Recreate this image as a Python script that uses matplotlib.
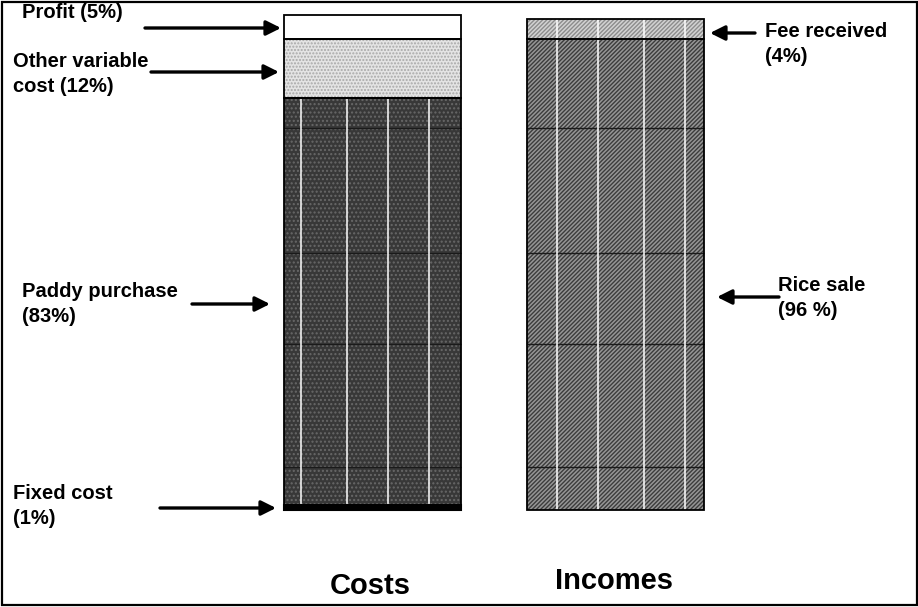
import matplotlib.pyplot as plt
from matplotlib.patches import Rectangle

plt.rcParams['font.family'] = ['Liberation Sans', 'DejaVu Sans']
plt.rcParams['font.weight'] = 'bold'
plt.rcParams['hatch.linewidth'] = 1.0

# shares of each side (percent), bottom to top
categories = ["Costs", "Incomes"]
cost_labels = ["Fixed cost", "Paddy purchase", "Other variable cost", "Profit"]
cost_values = [1, 83, 12, 5]
income_labels = ["Rice sale", "Fee received"]
income_values = [96, 4]

# fill styles: (face, hatch, hatch colour)
cost_styles = [("#000000", None, None),
               ("#383838", "....", "#686868"),
               ("#e4e4e4", ".....", "#a8a8a8"),
               ("#ffffff", None, None)]
income_styles = [("#969696", "////////", "#3c3c3c"),
                 ("#d2d2d2", "////////", "#8c8c8c")]

W, H = 918, 607
fig = plt.figure(figsize=(W / 100, H / 100), dpi=100)

# bar axes: y is percent, x is category index
ax = fig.add_axes([0, (H - 510) / H, 1, 493 / H])
px_per_unit = 242.5
ax.set_xlim(-372.5 / px_per_unit, (W - 372.5) / px_per_unit)
ax.set_ylim(0, 100.5)
ax.axis("off")
width = 177 / px_per_unit


def stack(x, values, styles):
    bottom = 0
    for v, (face, hatch, hcol) in zip(values, styles):
        ax.bar(x, v, width, bottom=bottom, color=face, edgecolor="none",
               linewidth=0, clip_on=False)
        if hatch:
            ax.bar(x, v, width, bottom=bottom, fill=False, hatch=hatch,
                   edgecolor=hcol, linewidth=0, clip_on=False)
        bottom += v
    return bottom


cost_top = stack(0, cost_values, cost_styles)
income_top = stack(1, income_values, income_styles)

# faint guide lines running through the big segments
guide_levels = [8.8, 33.8, 52.4, 77.9]
for x in (0, 1):
    ax.hlines(guide_levels, x - width / 2, x + width / 2, color="#1a1a1a", lw=1.0, zorder=3)

# white column rules inside the bars
cost_rules = [0.098, 0.357, 0.589, 0.820]
income_rules = [0.174, 0.406, 0.666, 0.898]
paddy_lo = cost_values[0]
paddy_hi = cost_values[0] + cost_values[1]
for f in cost_rules:
    ax.vlines(-width / 2 + f * width, paddy_lo, paddy_hi, color="white", lw=1.1, zorder=3)
for f in income_rules:
    ax.vlines(1 - width / 2 + f * width, 0, income_top, color="white", lw=1.1, zorder=3)

# segment outlines
for x, values in ((0, cost_values), (1, income_values)):
    bottom = 0
    for v in values:
        ax.bar(x, v, width, bottom=bottom, fill=False, edgecolor="black",
               linewidth=1.3, zorder=4, clip_on=False)
        bottom += v
# heavy base for fixed cost
ax.bar(0, cost_values[0], width, color="black", edgecolor="black", linewidth=1.5,
       zorder=5, clip_on=False)

# overlay in pixel units for labels and arrows
ov = fig.add_axes([0, 0, 1, 1])
ov.set_xlim(0, W)
ov.set_ylim(H, 0)
ov.axis("off")
ov.patch.set_alpha(0)

fs = 14.5
ls = 1.35
arrow = dict(arrowstyle="-|>", lw=2.4, color="black", mutation_scale=22,
             shrinkA=0, shrinkB=0)

ov.text(22, 13, "Profit (5%)", fontsize=fs, va="center", ha="left")
ov.annotate("", xy=(281, 28), xytext=(145, 28), arrowprops=arrow)

ov.text(13, 74, "Other variable\ncost (12%)", fontsize=fs, va="center", ha="left",
        linespacing=ls)
ov.annotate("", xy=(279, 72), xytext=(151, 72), arrowprops=arrow)

ov.text(22, 304, "Paddy purchase\n(83%)", fontsize=fs, va="center", ha="left",
        linespacing=ls)
ov.annotate("", xy=(270, 304), xytext=(192, 304), arrowprops=arrow)

ov.text(13, 506, "Fixed cost\n(1%)", fontsize=fs, va="center", ha="left",
        linespacing=ls)
ov.annotate("", xy=(276, 508), xytext=(160, 508), arrowprops=arrow)

ov.text(765, 44, "Fee received\n(4%)", fontsize=fs, va="center", ha="left",
        linespacing=ls)
ov.annotate("", xy=(710, 33), xytext=(755, 33), arrowprops=arrow)

ov.text(778, 298, "Rice sale\n(96 %)", fontsize=fs, va="center", ha="left",
        linespacing=ls)
ov.annotate("", xy=(717, 297), xytext=(779, 297), arrowprops=arrow)

ov.text(370, 586, categories[0], fontsize=21, ha="center", va="center")
ov.text(614, 581, categories[1], fontsize=21, ha="center", va="center")

# frame around the whole figure
fig.patches.append(Rectangle((1.5 / W, 2.5 / H), 915 / W, 603 / H, transform=fig.transFigure,
                             fill=False, edgecolor="black", linewidth=1.6))

fig.savefig("out.png", dpi=100)
